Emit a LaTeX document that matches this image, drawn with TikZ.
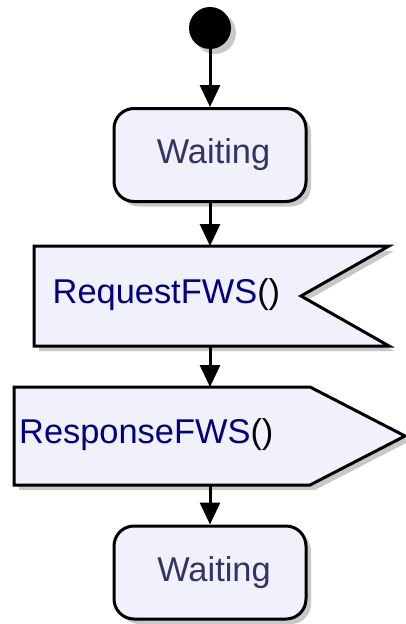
\documentclass[tikz,border=0pt]{standalone}
\usepackage{fontspec}
\setmainfont{Liberation Sans}
\usetikzlibrary{shadows,arrows.meta}
\definecolor{boxfill}{HTML}{F1F1FC}
\definecolor{waitcol}{HTML}{333366}
\definecolor{sigcol}{HTML}{000080}
\definecolor{shadowcol}{HTML}{C8C8C8}
\begin{document}
\begin{tikzpicture}[x=1pt,y=-1pt,
  shade/.style={drop shadow={shadow xshift=5pt,shadow yshift=-5pt,fill=shadowcol,opacity=1}},
  bigfont/.style={font=\fontsize{34.4pt}{40pt}\selectfont},
  statebox/.style={draw, line width=3pt, rounded corners=20pt, fill=boxfill,
    minimum width=192pt, minimum height=93pt, bigfont, text=waitcol, shade},
  flow/.style={line width=3pt, -{Triangle[length=22pt,width=20pt]}},
  sigbox/.style={draw, line width=3pt, fill=boxfill, line join=miter, shade},
  frame/.style={inner sep=0pt, outer sep=0pt, anchor=north west}
]
\useasboundingbox (0,0) rectangle (406,624);

% initial state
\node[circle, fill=black, minimum size=42pt, inner sep=0pt, shade] (start) at (210,28) {};

% first state
\node[statebox] (w1) at (210,155) {\hspace*{7pt}Waiting};

% receive signal (RequestFWS)
\node[frame, minimum width=355pt, minimum height=100pt] (req) at (34,246) {};
\path[sigbox] (req.north west) -- (req.north east) -- ([xshift=-88pt]req.east)
  -- (req.south east) -- (req.south west) -- cycle;
\node[anchor=base west, inner sep=0pt, bigfont] (reqtext) at (52.5,303)
  {\textcolor{sigcol}{RequestFWS}()};

% send signal (ResponseFWS)
\node[frame, minimum width=391pt, minimum height=98pt] (resp) at (14,387) {};
\path[sigbox] (resp.north west) -- ([xshift=-95pt]resp.north east) -- (resp.east)
  -- ([xshift=-95pt]resp.south east) -- (resp.south west) -- cycle;
\node[anchor=base west, inner sep=0pt, bigfont] (resptext) at (19,443)
  {\textcolor{sigcol}{ResponseFWS}()};

% final state
\node[statebox] (w2) at (210,572.5) {\hspace*{8pt}Waiting};

% connectors
\draw[flow] (start.south) -- (w1.north);
\draw[flow] (w1.south) -- (w1.south |- req.north);
\draw[flow] (w1.south |- req.south) -- (w1.south |- resp.north);
\draw[flow] (w1.south |- resp.south) -- (w2.north);
\end{tikzpicture}
\end{document}
